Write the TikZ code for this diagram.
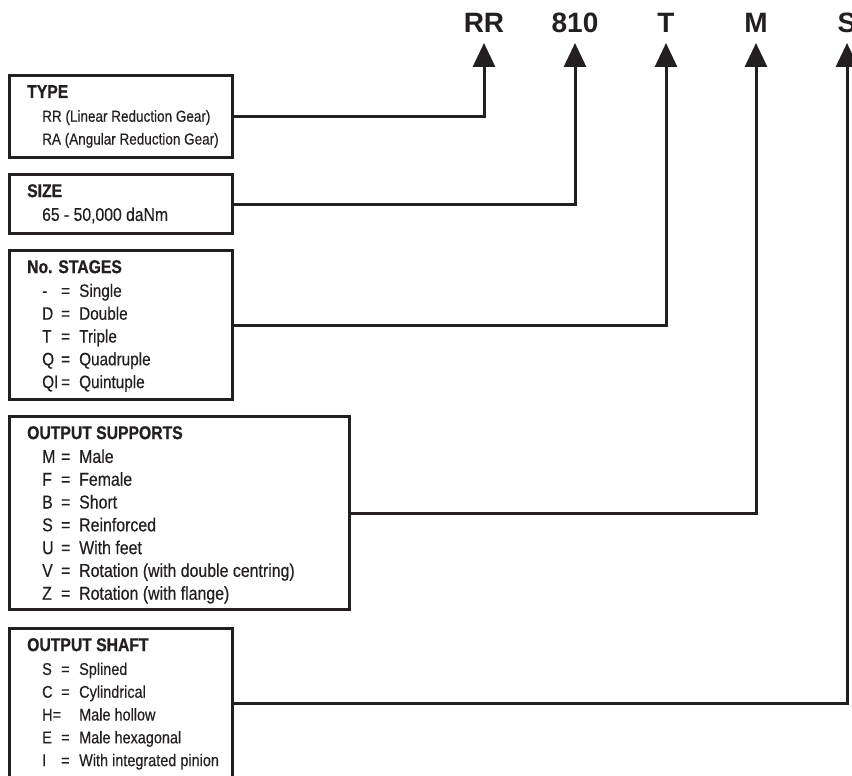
\documentclass[tikz,border=0pt]{standalone}
\usepackage{fontspec}
\setmainfont{Liberation Sans}[FakeStretch=0.85,FakeBold=0.4]
\newfontfamily\headfont{Liberation Sans}[FakeStretch=0.85,FakeBold=0.8]
\newfontfamily\codefont{Liberation Sans}
\usetikzlibrary{positioning,arrows.meta}
\definecolor{ink}{RGB}{35,31,32}
\newcommand{\opt}[2]{\hspace*{15pt}\makebox[19pt][l]{#1}\makebox[18pt][l]{=}#2}
\newcommand{\head}[1]{{\headfont\bfseries\fontsize{18.5}{22.8}\selectfont #1}}

\begin{document}
\begin{tikzpicture}[x=1pt,y=-1pt,
box/.style={
    rectangle,
    draw=ink,
    line width=3pt,
    anchor=north west,
    minimum width=223pt,
    inner sep=0
    },
txt/.style={
    anchor=north west,
    align=left,
    inner sep=0,
    text=ink,
    font=\fontsize{#1}{22.8}\selectfont},
code/.style={
    text=ink,
    font=\codefont\bfseries\fontsize{28}{28}\selectfont,
    text height=20pt,
    text depth=0pt,
    inner xsep=0,
    inner ysep=10pt,
    outer sep=0,
    anchor=south},
link/.style={
    draw=ink,
    line width=3pt,
    -{Triangle[width=22pt,length=24pt]}}
]
\path[use as bounding box,clip] (0,0) rectangle (852,776);
% code letters
\node(rr) [code] at (484,43) {RR};
\node(size) [code] at (575,43) {810};
\node(stages) [code] at (666,43) {T};
\node(supports) [code] at (756,43) {M};
\node(shaft) [code] at (847,43) {S};
% boxes
\node(typebox) [box,minimum height=82pt] at (8,74) {};
\node(sizebox) [box,minimum height=59pt] at (8,173) {};
\node(stagesbox) [box,minimum height=149pt] at (8,249) {};
\node(supportsbox) [box,minimum height=193pt,minimum width=340pt] at (8,415) {};
\node(shaftbox) [box,minimum height=150pt] at (8,627) {};
% box texts
\node(typetxt) [txt=15.9] at ([shift={(19,11)}]typebox.north west)
  {\head{TYPE}\\[1pt]
   \hspace*{15pt}RR (Linear Reduction Gear)\\
   \hspace*{15pt}RA (Angular Reduction Gear)};
\node(sizetxt) [txt=18.5] at ([shift={(19,11)}]sizebox.north west)
  {\head{SIZE}\\[1pt]
   \hspace*{15pt}65 - 50,000 daNm};
\node(stagestxt) [txt=18] at ([shift={(19,11)}]stagesbox.north west)
  {\head{No. STAGES}\\[1pt]
   \opt{-}{Single}\\
   \opt{D}{Double}\\
   \opt{T}{Triple}\\
   \opt{Q}{Quadruple}\\
   \opt{QI}{Quintuple}};
\node(supportstxt) [txt=18.7] at ([shift={(19,11)}]supportsbox.north west)
  {\head{OUTPUT SUPPORTS}\\[1pt]
   \opt{M}{Male}\\
   \opt{F}{Female}\\
   \opt{B}{Short}\\
   \opt{S}{Reinforced}\\
   \opt{U}{With feet}\\
   \opt{V}{Rotation (with double centring)}\\
   \opt{Z}{Rotation (with flange)}};
\node(shafttxt) [txt=17] at ([shift={(19,11)}]shaftbox.north west)
  {\head{OUTPUT SHAFT}\\[1pt]
   \opt{S}{Splined}\\
   \opt{C}{Cylindrical}\\
   \hspace*{15pt}\makebox[37pt][l]{H=}Male hollow\\
   \opt{E}{Male hexagonal}\\
   \opt{I}{With integrated pinion}};
% connectors
\draw[link] (typebox) -| (rr);
\draw[link] (sizebox) -| (size);
\draw[link] (stagesbox) -| (stages);
\draw[link] (supportsbox) -| (supports);
\draw[link] (shaftbox) -| (shaft);
\end{tikzpicture}
\end{document}
